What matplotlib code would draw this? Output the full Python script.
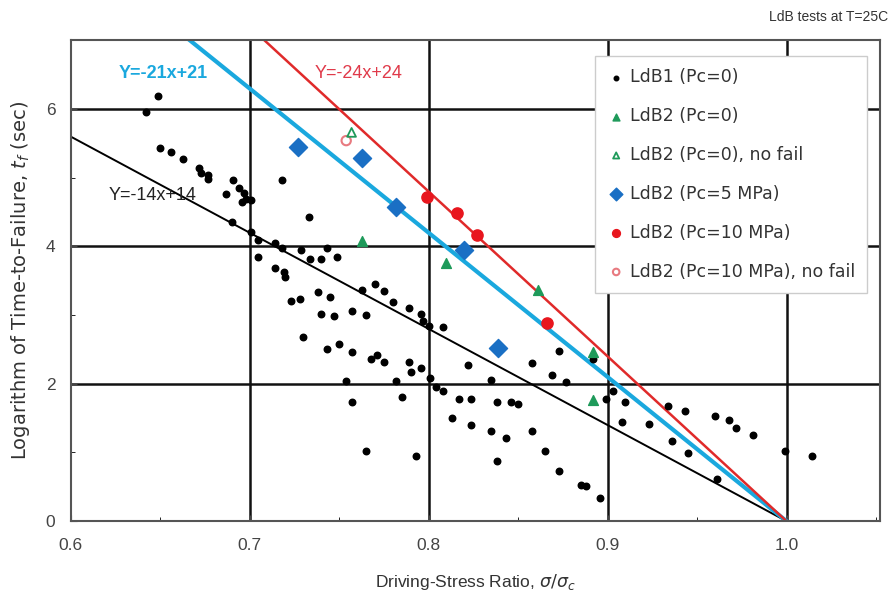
import numpy as np
import matplotlib.pyplot as plt

plt.rcParams['font.family'] = ['Liberation Sans', 'DejaVu Sans']

# LdB1 (Pc=0)
ldb1_x = [0.649, 0.642, 0.650, 0.656, 0.663, 0.672, 0.673, 0.677, 0.677, 0.691,
          0.687, 0.694, 0.697, 0.698, 0.701, 0.696, 0.690, 0.701, 0.705, 0.714,
          0.718, 0.729, 0.734, 0.740, 0.749, 0.705, 0.714, 0.719, 0.720, 0.718,
          0.733, 0.743, 0.770, 0.775, 0.763, 0.738, 0.745, 0.723, 0.728, 0.780,
          0.789, 0.740, 0.747, 0.757, 0.765, 0.796, 0.797, 0.800, 0.808, 0.730,
          0.743, 0.750, 0.757, 0.768, 0.771, 0.775, 0.789, 0.790, 0.796, 0.754,
          0.782, 0.801, 0.822, 0.835, 0.804, 0.808, 0.817, 0.824, 0.838, 0.846,
          0.850, 0.757, 0.785, 0.813, 0.824, 0.835, 0.843, 0.838, 0.765, 0.793,
          0.858, 0.865, 0.873, 0.888, 0.885, 0.896, 0.858, 0.869, 0.873, 0.877,
          0.892, 0.903, 0.899, 0.910, 0.908, 0.923, 0.934, 0.943, 0.936, 0.945,
          0.960, 0.968, 0.972, 0.981, 0.961, 0.999, 1.014]
ldb1_y = [6.19, 5.95, 5.43, 5.37, 5.27, 5.14, 5.07, 5.04, 4.98, 4.96,
          4.76, 4.85, 4.78, 4.69, 4.67, 4.65, 4.36, 4.21, 4.10, 4.05,
          3.98, 3.95, 3.81, 3.81, 3.85, 3.84, 3.69, 3.63, 3.55, 4.96,
          4.43, 3.98, 3.45, 3.35, 3.37, 3.33, 3.26, 3.20, 3.23, 3.19,
          3.11, 3.01, 2.98, 3.06, 3.00, 3.01, 2.91, 2.84, 2.83, 2.68,
          2.51, 2.58, 2.46, 2.36, 2.42, 2.32, 2.32, 2.17, 2.23, 2.04,
          2.04, 2.09, 2.28, 2.06, 1.96, 1.89, 1.78, 1.78, 1.73, 1.73,
          1.70, 1.73, 1.81, 1.50, 1.40, 1.31, 1.21, 0.88, 1.02, 0.95,
          1.31, 1.02, 0.73, 0.51, 0.52, 0.34, 2.30, 2.13, 2.48, 2.03,
          2.36, 1.90, 1.78, 1.73, 1.44, 1.42, 1.67, 1.60, 1.16, 0.99,
          1.53, 1.47, 1.35, 1.25, 0.61, 1.02, 0.95]

# LdB2 series
p0_x = [0.763, 0.810, 0.861, 0.892, 0.892]
p0_y = [4.08, 3.76, 3.37, 2.46, 1.77]
p0nf_x = [0.757]
p0nf_y = [5.66]
p5_x = [0.727, 0.763, 0.782, 0.820, 0.839]
p5_y = [5.44, 5.28, 4.57, 3.95, 2.52]
p10_x = [0.799, 0.816, 0.827, 0.866]
p10_y = [4.72, 4.48, 4.17, 2.89]
p10nf_x = [0.754]
p10nf_y = [5.54]

# fitted lines Y = -a x + a
slopes = [14, 21, 24]
line_colors = ['black', '#1aa8de', '#e02a2a']
line_widths = [1.4, 3.0, 1.8]

fig = plt.figure(figsize=(8.93, 6.11), dpi=100)
ax = fig.add_axes([0.079, 0.147, 0.906, 0.787])

x = np.linspace(0.6, 1.0, 200)
for a, c, lw in zip(slopes, line_colors, line_widths):
    ax.plot(x, -a * x + a, color=c, lw=lw, zorder=2)

ax.scatter(ldb1_x, ldb1_y, s=22, color='black', marker='o', zorder=3,
           label='LdB1 (Pc=0)')
ax.scatter(p0_x, p0_y, s=50, color='#1e9a5a', marker='^', zorder=4,
           label='LdB2 (Pc=0)')
ax.scatter(p0nf_x, p0nf_y, s=40, facecolor='none', edgecolor='#1e9a5a',
           marker='^', lw=1.3, zorder=5, label='LdB2 (Pc=0), no fail')
ax.scatter(p5_x, p5_y, s=85, color='#1a6fc4', marker='D', zorder=4,
           label='LdB2 (Pc=5 MPa)')
ax.scatter(p10_x, p10_y, s=65, color='#e8161e', marker='o', zorder=4,
           label='LdB2 (Pc=10 MPa)')
ax.scatter(p10nf_x, p10nf_y, s=45, facecolor='none', edgecolor='#e87a80',
           marker='o', lw=1.5, zorder=4, label='LdB2 (Pc=10 MPa), no fail')

ax.text(0.652, 6.52, 'Y=-21x+21', color='#1aa8de', fontsize=13,
        fontweight='bold', ha='center', va='center')
ax.text(0.761, 6.52, 'Y=-24x+24', color='#e03a4a', fontsize=13,
        ha='center', va='center')
ax.text(0.646, 4.74, 'Y=-14x+14', color='#222222', fontsize=13,
        ha='center', va='center')

ax.set_xlim(0.6, 1.052)
ax.set_ylim(0, 7)
ax.set_xticks([0.6, 0.7, 0.8, 0.9, 1.0])
ax.set_xticklabels(['0.6', '0.7', '0.8', '0.9', '1.0'])
ax.set_yticks([0, 2, 4, 6])
ax.set_xticks([0.65, 0.75, 0.85, 0.95, 1.05], minor=True)
ax.set_yticks([1, 3, 5], minor=True)
ax.tick_params(colors='#444444', labelsize=12.5, direction='in', length=4)
ax.tick_params(axis='x', pad=12)
ax.tick_params(axis='y', pad=11)
ax.tick_params(which='minor', direction='in', length=3)
for v in [0.7, 0.8, 0.9, 1.0]:
    ax.axvline(v, color='#111111', lw=1.8, zorder=1)
for v in [2, 4, 6]:
    ax.axhline(v, color='#111111', lw=1.8, zorder=1)
for s in ax.spines.values():
    s.set_color('#555555')
    s.set_linewidth(1.5)

ax.set_xlabel(r'Driving-Stress Ratio, $\sigma/\sigma_c$', color='#333333',
              fontsize=12.5, labelpad=14)
ax.set_ylabel(r'Logarithm of Time-to-Failure, $t_f$ (sec)', color='#333333',
              fontsize=14, family=['DejaVu Sans'], labelpad=10)
fig.text(0.995, 0.972, 'LdB tests at T=25C', ha='right', va='center',
         fontsize=10, color='#333333')

leg = ax.legend(loc='upper right', bbox_to_anchor=(0.985, 0.967),
                borderaxespad=0, prop={'family': 'DejaVu Sans', 'size': 12.5},
                labelspacing=1.2, handlelength=1.0, handletextpad=0.3,
                borderpad=0.7, frameon=True, fancybox=False, framealpha=1,
                markerscale=0.7)
leg.get_frame().set_edgecolor('#cccccc')
for t in leg.get_texts():
    t.set_color('#333333')

fig.savefig('out.png', dpi=100)
